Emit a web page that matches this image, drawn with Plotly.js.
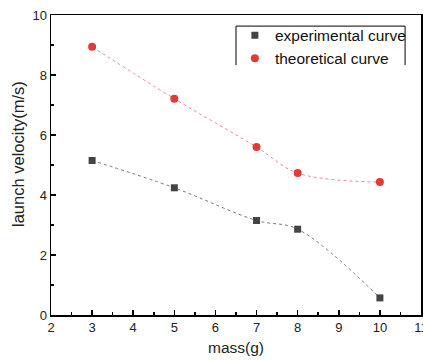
<!DOCTYPE html>
<html><head><meta charset="utf-8">
<script src="https://cdn.plot.ly/plotly-3.0.1.min.js"></script>
<style>html,body{margin:0;padding:0;background:#fff}#c{width:423px;height:360px}</style>
</head><body><div id="c"></div>
<script>
const mass = [3, 5, 7, 8, 10];
const experimental = [5.15, 4.24, 3.15, 2.86, 0.57];
const theoretical = [8.94, 7.21, 5.60, 4.73, 4.43];
const xTicks = [2, 3, 4, 5, 6, 7, 8, 9, 10, 11];
const yTicks = [0, 2, 4, 6, 8, 10];

const font = "Liberation Sans, Arial, sans-serif";
const traces = [
  {x: mass, y: experimental, name: 'experimental curve', mode: 'lines', showlegend: false,
   line: {shape: 'spline', color: '#555', width: 0.8, dash: 'dot'}, hoverinfo: 'skip'},
  {x: mass, y: theoretical, name: 'theoretical curve', mode: 'lines', showlegend: false,
   line: {shape: 'spline', color: '#e07070', width: 0.8, dash: 'dot'}, hoverinfo: 'skip'},
  {x: mass, y: experimental, name: 'experimental curve', mode: 'markers',
   marker: {symbol: 'square', size: 7, color: '#444'}},
  {x: mass, y: theoretical, name: 'theoretical curve', mode: 'markers',
   marker: {symbol: 'circle', size: 8, color: '#e53935'}}
];
const axisCommon = {
  showgrid: false, zeroline: false, showline: true, linecolor: '#000', linewidth: 1.5,
  mirror: true, ticks: 'inside', ticklen: 5, tickwidth: 1.5, tickcolor: '#000',
  tickfont: {family: font, size: 13, color: '#222'}, ticklabeloverflow: 'allow',
  minor: {ticks: 'inside', ticklen: 3, tickwidth: 1.5, tickcolor: '#000', showgrid: false}
};
const L = {x0: 0.5, x1: 0.957, y0: 0.833, y1: 0.963};
const layout = {
  width: 423, height: 360,
  margin: {l: 51, r: 2, t: 15, b: 45},
  paper_bgcolor: '#fff', plot_bgcolor: '#fff',
  font: {family: font, color: '#222'},
  xaxis: Object.assign({}, axisCommon, {
    range: [2, 11.0001], tickvals: xTicks, ticktext: xTicks.map(String),
    minor: Object.assign({}, axisCommon.minor, {dtick: 0.5, tick0: 2}),
    title: {text: 'mass(g)', font: {family: font, size: 15.5, color: '#222'}, standoff: 8}
  }),
  yaxis: Object.assign({}, axisCommon, {
    range: [0, 10], tickvals: yTicks, ticktext: yTicks.map(String),
    minor: Object.assign({}, axisCommon.minor, {dtick: 1, tick0: 0})
  }),
  annotations: [{text: 'launch velocity(m/s)', textangle: -90, xref: 'paper', yref: 'paper',
    x: -0.089, y: 0.537, xanchor: 'center', yanchor: 'middle', showarrow: false,
    font: {family: font, size: 16.5, color: '#222'}}],
  shapes: [
    {type: 'line', xref: 'paper', yref: 'paper', x0: L.x0, x1: L.x0, y0: L.y0, y1: L.y1, line: {color: '#000', width: 1}},
    {type: 'line', xref: 'paper', yref: 'paper', x0: L.x0, x1: L.x1, y0: L.y1, y1: L.y1, line: {color: '#000', width: 1}},
    {type: 'line', xref: 'paper', yref: 'paper', x0: L.x1, x1: L.x1, y0: L.y0, y1: L.y1, line: {color: '#000', width: 1}}
  ],
  legend: {x: 0.497, y: 0.988, xanchor: 'left', yanchor: 'top',
    bgcolor: 'rgba(0,0,0,0)', borderwidth: 0,
    font: {family: font, size: 15.5, color: '#111'}, tracegroupgap: 0, itemwidth: 30}
};
Plotly.newPlot('c', traces, layout, {displayModeBar: false, staticPlot: true});
</script></body></html>
